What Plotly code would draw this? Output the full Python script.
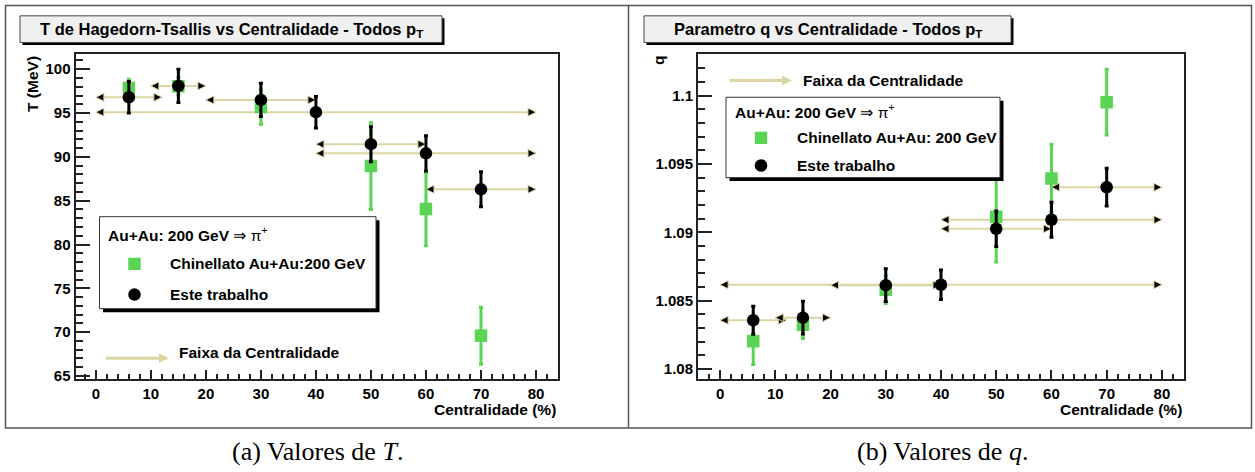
import plotly.graph_objects as go

W, H = 1255, 472

# Centrality ranges (%) and the centre of each range
cent_lo = [0, 10, 20, 0, 40, 40, 60]
cent_hi = [12, 20, 40, 80, 60, 80, 80]
cent_mid = [6, 15, 30, 40, 50, 60, 70]

# Hagedorn-Tsallis temperature T (MeV), this work
T_este = [96.8, 98.1, 96.5, 95.1, 91.45, 90.4, 86.3]
T_este_err = [1.8, 1.9, 1.9, 1.8, 2.0, 2.0, 2.0]

# Chinellato values (no 0-80 % point)
chin_mid = [6, 15, 30, 50, 60, 70]
T_chin = [97.85, 98.05, 95.7, 88.95, 84.05, 69.6]
T_chin_err = [1.0, 1.0, 2.0, 4.95, 4.2, 3.25]

# Tsallis parameter q, this work
q_este = [1.08357, 1.08376, 1.08614, 1.08617, 1.09026, 1.09092, 1.0933]
q_este_err = [0.00103, 0.0012, 0.0012, 0.00108, 0.0013, 0.00128, 0.00138]
q_chin = [1.08204, 1.08324, 1.08580, 1.09114, 1.09393, 1.09952]
q_chin_err = [0.0017, 0.0010, 0.0010, 0.0033, 0.0025, 0.0024]

# Axis ticks
x_ticks = [0, 10, 20, 30, 40, 50, 60, 70, 80]
T_ticks = [65, 70, 75, 80, 85, 90, 95, 100]
q_ticks = [1.08, 1.085, 1.09, 1.095, 1.1]
q_ticktext = ["1.08", "1.085", "1.09", "1.095", "1.1"]

GREEN = "#59d454"
KHAKI = "#dcd5a3"
FRAME = "#222222"
SANS = "Liberation Sans"


def fx(px):
    return px / W


def fy(py):
    return 1 - py / H


fig = go.Figure()

# ---- data traces -------------------------------------------------------
for xa, ya, chin, chin_err, este, este_err in (
    ("x", "y", T_chin, T_chin_err, T_este, T_este_err),
    ("x2", "y2", q_chin, q_chin_err, q_este, q_este_err),
):
    fig.add_trace(go.Scatter(
        x=chin_mid, y=chin, mode="markers", xaxis=xa, yaxis=ya,
        marker=dict(symbol="square", size=12.5, color=GREEN, line=dict(width=0)),
        error_y=dict(type="data", array=chin_err, color=GREEN, thickness=3, width=2),
        showlegend=False, name="Chinellato",
    ))
    fig.add_trace(go.Scatter(
        x=cent_mid, y=este, mode="markers", xaxis=xa, yaxis=ya,
        marker=dict(symbol="circle", size=12.5, color="black", line=dict(width=0)),
        error_y=dict(type="data", array=este_err, color="black", thickness=3, width=2),
        showlegend=False, name="Este trabalho",
    ))

shapes = []
annotations = []

# ---- centrality-range arrows -------------------------------------------
HEAD_R = "M0,0 L-8,4 L-8,-4 Z"
HEAD_L = "M0,0 L8,4 L8,-4 Z"
for xa, ya, vals in (("x", "y", T_este), ("x2", "y2", q_este)):
    for lo, hi, v in zip(cent_lo, cent_hi, vals):
        shapes.append(dict(type="line", xref=xa, yref=ya, x0=lo, x1=hi, y0=v, y1=v,
                           line=dict(color=KHAKI, width=2), layer="below"))
    for lo, hi, v in zip(cent_lo, cent_hi, vals):
        for xend, path in ((lo, HEAD_L), (hi, HEAD_R)):
            shapes.append(dict(type="path", xref=xa, yref=ya,
                               xsizemode="pixel", ysizemode="pixel",
                               xanchor=xend, yanchor=v, path=path,
                               fillcolor="black", line=dict(color=KHAKI, width=1),
                               layer="below"))

# ---- outer frame and divider -------------------------------------------
shapes.append(dict(type="rect", xref="paper", yref="paper",
                   x0=fx(5.5), x1=fx(1251.5), y0=fy(432.5), y1=fy(5.5),
                   line=dict(color="#555555", width=1.5), layer="above"))
shapes.append(dict(type="line", xref="paper", yref="paper",
                   x0=fx(628.5), x1=fx(628.5), y0=fy(432.5), y1=fy(5.5),
                   line=dict(color="#555555", width=1.5), layer="above"))


def shadow_box(x0, y0, x1, y1, fill, off, border="#444444", bw=1):
    shapes.append(dict(type="rect", xref="paper", yref="paper",
                       x0=fx(x0 + off), x1=fx(x1 + off), y0=fy(y1 + off), y1=fy(y0 + off),
                       fillcolor="black", line=dict(width=0), layer="above"))
    shapes.append(dict(type="rect", xref="paper", yref="paper",
                       x0=fx(x0), x1=fx(x1), y0=fy(y1), y1=fy(y0),
                       fillcolor=fill, line=dict(color=border, width=bw), layer="above"))


def text(px, py, s, size=15.5, xanchor="left", bold=True, family=SANS, angle=0,
         yanchor="middle"):
    annotations.append(dict(
        x=fx(px), y=fy(py), xref="paper", yref="paper", text=s, showarrow=False,
        xanchor=xanchor, yanchor=yanchor, textangle=angle,
        font=dict(family=family, size=size, color="black",
                  weight="bold" if bold else "normal"),
    ))


# ---- title boxes -------------------------------------------------------
shadow_box(20, 16, 442, 43, "#f0f0f0", 2.5)
text(231, 30, "T de Hagedorn-Tsallis vs Centralidade - Todos p<sub>T</sub>", 16.5, "center")
shadow_box(644, 16, 1011, 43, "#f0f0f0", 2.5)
text(827.5, 30, "Parametro q vs Centralidade - Todos p<sub>T</sub>", 16.5, "center")

# ---- legends -----------------------------------------------------------
def legend(x0, y0, x1, y1, header, chin_label, rows):
    shadow_box(x0, y0, x1, y1, "white", 3.5, border="#333333", bw=1)
    text(x0 + 6.5, rows[0], header)
    sx = x0 + 35
    tx = x0 + 68.5
    shapes.append(dict(type="rect", xref="paper", yref="paper",
                       x0=fx(sx - 6.2), x1=fx(sx + 6.2), y0=fy(rows[1] + 6.2), y1=fy(rows[1] - 6.2),
                       fillcolor=GREEN, line=dict(width=0), layer="above"))
    text(tx, rows[1], chin_label)
    shapes.append(dict(type="circle", xref="paper", yref="paper",
                       x0=fx(sx - 6.3), x1=fx(sx + 6.3), y0=fy(rows[2] + 6.3), y1=fy(rows[2] - 6.3),
                       fillcolor="black", line=dict(width=0), layer="above"))
    text(tx, rows[2], "Este trabalho")


HEADER = "Au+Au: 200 GeV <span style='font-weight:normal'>⇒ π<sup>+</sup></span>"
legend(99.5, 219, 376, 312, HEADER, "Chinellato Au+Au:200 GeV", (236, 266.7, 297.7))
legend(726, 98.3, 1000, 179.5, HEADER, "Chinellato Au+Au: 200 GeV", (111.7, 139.3, 167.3))


def faixa(x0, x1, ya, xt, yt):
    shapes.append(dict(type="line", xref="paper", yref="paper",
                       x0=fx(x0), x1=fx(x1 - 8), y0=fy(ya), y1=fy(ya),
                       line=dict(color=KHAKI, width=3), layer="above"))
    shapes.append(dict(type="path", xref="paper", yref="paper",
                       path="M{:.5f},{:.5f} L{:.5f},{:.5f} L{:.5f},{:.5f} Z".format(
                           fx(x1), fy(ya), fx(x1 - 10), fy(ya - 5), fx(x1 - 10), fy(ya + 5)),
                       fillcolor=KHAKI, line=dict(width=0), layer="above"))
    text(xt, yt, "Faixa da Centralidade")


faixa(106, 169, 362, 176.5, 356.5)
faixa(729.5, 792, 81.3, 800.5, 81.3)

# ---- axis titles -------------------------------------------------------
text(32.5, 55, "T (MeV)", 15.5, "center", angle=-90, yanchor="top")
text(558, 414, "Centralidade (%)", 15.5, "right")
text(659, 55, "q", 15.5, "center", angle=-90, yanchor="top")
text(1184, 414, "Centralidade (%)", 15.5, "right")

# ---- captions ----------------------------------------------------------
text(317, 456, "(a) Valores de <i>T</i>.", 26, "center", bold=False, family="Liberation Serif")
text(942, 456, "(b) Valores de <i>q</i>.", 26, "center", bold=False, family="Liberation Serif")

# ---- axes --------------------------------------------------------------
tickfont = dict(family=SANS, size=15, color="black", weight="bold")
common = dict(showline=True, mirror=True, linecolor=FRAME, linewidth=2,
              showgrid=False, zeroline=False, ticks="inside", tickcolor=FRAME,
              tickfont=tickfont)
ydom = [fy(383), fy(55)]

fig.update_layout(
    width=W, height=H, margin=dict(l=0, r=0, t=0, b=0),
    paper_bgcolor="white", plot_bgcolor="white", showlegend=False,
    xaxis=dict(domain=[fx(75.5), fx(558)], range=[-3.7, 84], anchor="y",
               tickmode="array", tickvals=x_ticks, ticklen=9, tickwidth=2,
               minor=dict(ticks="inside", tickmode="linear", tick0=0, dtick=2,
                          ticklen=4.5, tickwidth=1.5, tickcolor=FRAME),
               **common),
    yaxis=dict(domain=ydom, range=[64.66, 101.69], anchor="x",
               tickmode="array", tickvals=T_ticks, ticklen=14, tickwidth=2,
               minor=dict(ticks="inside", tickmode="linear", tick0=0, dtick=1,
                          ticklen=7, tickwidth=1.5, tickcolor=FRAME),
               **common),
    xaxis2=dict(domain=[fx(698), fx(1184)], range=[-4, 84], anchor="y2",
                tickmode="array", tickvals=x_ticks, ticklen=9, tickwidth=2,
                minor=dict(ticks="inside", tickmode="linear", tick0=0, dtick=2,
                           ticklen=4.5, tickwidth=1.5, tickcolor=FRAME),
                **common),
    yaxis2=dict(domain=ydom, range=[1.07928, 1.10301], anchor="x2",
                tickmode="array", tickvals=q_ticks, ticktext=q_ticktext,
                ticklen=14, tickwidth=2,
                minor=dict(ticks="inside", tickmode="linear", tick0=1.08, dtick=0.001,
                           ticklen=7, tickwidth=1.5, tickcolor=FRAME),
                **common),
    shapes=shapes,
    annotations=annotations,
)

fig.write_html("out.html")
